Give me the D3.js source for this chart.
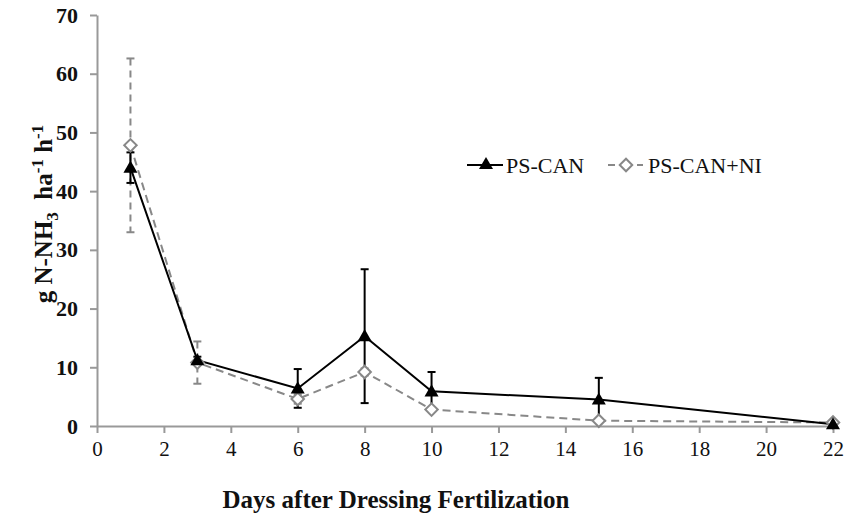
<!DOCTYPE html>
<html>
<head>
<meta charset="utf-8">
<script src="https://cdn.jsdelivr.net/npm/d3@7"></script>
<style>
  body { margin: 0; background: #fff; }
  svg { display: block; }
  svg text { font-family: "Liberation Serif", "Times New Roman", serif; }
</style>
</head>
<body>
<svg id="chart" width="845" height="517"></svg>
<script>
// data
const days = [1, 3, 6, 8, 10, 15, 22];
const psCan = [44.0, 11.2, 6.4, 15.3, 5.9, 4.5, 0.3];
const psCanErr = [2.6, 0.6, 3.3, 11.4, 3.3, 3.7, 0.2];
const psCanNi = [47.8, 10.8, 4.6, 9.2, 2.8, 0.9, 0.6];
const psCanNiErr = [14.8, 3.6, 0.8, 0.6, 0.3, 0.2, 0.2];
const xTicks = [0, 2, 4, 6, 8, 10, 12, 14, 16, 18, 20, 22];
const yTicks = [0, 10, 20, 30, 40, 50, 60, 70];

const svg = d3.select("#chart");
const serif = "Liberation Serif";

const x = d3.scaleLinear().domain([0, 22]).range([97, 833]);
const y = d3.scaleLinear().domain([0, 70]).range([426, 15]);

//* axes
const xAxis = svg.append("g")
  .attr("transform", `translate(0, ${y(0)})`)
  .call(d3.axisBottom(x).tickValues(xTicks).tickSize(7).tickSizeOuter(0).tickPadding(8));
xAxis.select(".domain").attr("stroke", "#999").attr("stroke-width", 2);
xAxis.selectAll(".tick line").attr("stroke", "#999").attr("stroke-width", 2);
xAxis.selectAll(".tick text")
  .style("font-family", serif).attr("font-size", 21).attr("fill", "#111");

const yAxis = svg.append("g")
  .attr("transform", `translate(${x(0)}, 0)`)
  .call(d3.axisLeft(y).tickValues(yTicks).tickSize(7).tickSizeOuter(0).tickPadding(12));
yAxis.select(".domain").attr("stroke", "#999").attr("stroke-width", 2);
yAxis.selectAll(".tick line").attr("stroke", "#999").attr("stroke-width", 2);
yAxis.selectAll(".tick text")
  .style("font-family", serif).attr("font-size", 22).attr("font-weight", "bold").attr("fill", "#111");

//* axis titles
svg.append("text")
  .attr("x", 396).attr("y", 508)
  .attr("text-anchor", "middle")
  .style("font-family", serif).attr("font-size", 25).attr("font-weight", "bold")
  .attr("fill", "#111")
  .text("Days after Dressing Fertilization");

const yTitle = svg.append("text")
  .attr("transform", "translate(52, 214) rotate(-90)")
  .attr("text-anchor", "middle")
  .style("font-family", serif).attr("font-size", 25).attr("font-weight", "bold")
  .attr("fill", "#111");
yTitle.append("tspan").text("g N-NH");
yTitle.append("tspan").attr("font-size", 17).attr("dy", 6).text("3");
yTitle.append("tspan").attr("dy", -6).text("\u00A0 ha");
yTitle.append("tspan").attr("font-size", 17).attr("dy", -9).text("-1");
yTitle.append("tspan").attr("dy", 9).text(" h");
yTitle.append("tspan").attr("font-size", 17).attr("dy", -9).text("-1");

const rowsA = days.map((d, i) => ({ day: d, v: psCan[i], e: psCanErr[i] }));
const rowsB = days.map((d, i) => ({ day: d, v: psCanNi[i], e: psCanNiErr[i] }));

const line = d3.line().x(d => x(d.day)).y(d => y(d.v));

function errorBars(rows, color, dash, cls) {
  const g = svg.append("g").attr("class", cls);
  g.selectAll("line.bar").data(rows).join("line")
    .attr("x1", d => x(d.day)).attr("x2", d => x(d.day))
    .attr("y1", d => y(d.v + d.e)).attr("y2", d => y(d.v - d.e))
    .attr("stroke", color).attr("stroke-width", 2)
    .attr("stroke-dasharray", dash);
  ["top", "bot"].forEach(k => {
    g.selectAll("line." + k).data(rows).join("line")
      .attr("class", k)
      .attr("x1", d => x(d.day) - 4).attr("x2", d => x(d.day) + 4)
      .attr("y1", d => y(k === "top" ? d.v + d.e : d.v - d.e))
      .attr("y2", d => y(k === "top" ? d.v + d.e : d.v - d.e))
      .attr("stroke", color).attr("stroke-width", 2);
  });
}

//* PS-CAN+NI (grey dashed, open diamonds)
errorBars(rowsB, "#888", "7,5", "err-b");
svg.append("path").datum(rowsB)
  .attr("d", line).attr("fill", "none")
  .attr("stroke", "#888").attr("stroke-width", 2).attr("stroke-dasharray", "8,5");

//* PS-CAN (black solid, triangles)
errorBars(rowsA, "#000", null, "err-a");
svg.append("path").datum(rowsA)
  .attr("d", line).attr("fill", "none")
  .attr("stroke", "#000").attr("stroke-width", 2);

const tri = d3.symbol().type(d3.symbolTriangle).size(85);
const dia = d3.symbol().type(d3.symbolSquare).size(78);

svg.append("g").selectAll("path").data(rowsB).join("path")
  .attr("transform", d => `translate(${x(d.day)}, ${y(d.v)}) rotate(45)`)
  .attr("d", dia).attr("fill", "#fff").attr("stroke", "#888").attr("stroke-width", 2);

svg.append("g").selectAll("path").data(rowsA).join("path")
  .attr("transform", d => `translate(${x(d.day)}, ${y(d.v) + 1})`)
  .attr("d", tri).attr("fill", "#000");

//* legend
const leg = svg.append("g").attr("fill", "#111");
leg.append("line").attr("x1", 467).attr("x2", 503).attr("y1", 165).attr("y2", 165)
  .attr("stroke", "#000").attr("stroke-width", 2);
leg.append("path").attr("transform", "translate(486, 165)").attr("d", tri).attr("fill", "#000");
leg.append("text").attr("x", 506).attr("y", 173)
  .style("font-family", serif).attr("font-size", 22).text("PS-CAN");

leg.append("line").attr("x1", 608).attr("x2", 643).attr("y1", 165).attr("y2", 165)
  .attr("stroke", "#888").attr("stroke-width", 2).attr("stroke-dasharray", "7,22");
leg.append("path").attr("transform", "translate(626, 165) rotate(45)").attr("d", dia)
  .attr("fill", "#fff").attr("stroke", "#888").attr("stroke-width", 2);
leg.append("text").attr("x", 648).attr("y", 173)
  .style("font-family", serif).attr("font-size", 22).text("PS-CAN+NI");
</script>
</body>
</html>
